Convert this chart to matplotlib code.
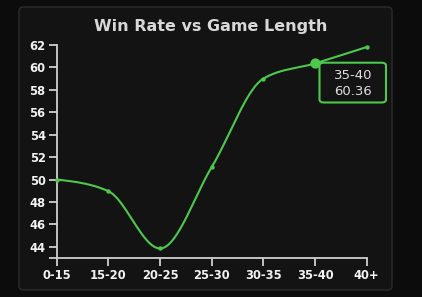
import numpy as np
import matplotlib
matplotlib.use("Agg")
import matplotlib.pyplot as plt
from matplotlib.patches import FancyBboxPatch

categories = ["0-15", "15-20", "20-25", "25-30", "30-35", "35-40", "40+"]
win_rate = [50.0, 48.96, 43.85, 51.11, 59.0, 60.36, 61.82]
y_ticks = [44, 46, 48, 50, 52, 54, 56, 58, 60, 62]
highlight = 5

GREEN = "#4cc94c"
W, H = 422, 297

def monotone_x(x, y, n=40):
    x = np.asarray(x, float); y = np.asarray(y, float)
    h = np.diff(x); s = np.diff(y) / h
    m = np.zeros_like(y)
    for i in range(1, len(y) - 1):
        if s[i-1] * s[i] <= 0:
            m[i] = 0
        else:
            p = (s[i-1] * h[i] + s[i] * h[i-1]) / (h[i-1] + h[i])
            m[i] = (np.sign(s[i-1]) + np.sign(s[i])) * min(abs(s[i-1]), abs(s[i]), 0.5 * abs(p))
    m[0] = (3 * s[0] - m[1]) / 2
    m[-1] = (3 * s[-1] - m[-2]) / 2
    xs, ys = [], []
    for i in range(len(h)):
        t = np.linspace(0, 1, n)
        x0, x1 = x[i], x[i+1]
        y0, y1 = y[i], y[i+1]
        dx = h[i] / 3
        p0 = (x0, y0); p1 = (x0 + dx, y0 + m[i] * dx)
        p2 = (x1 - dx, y1 - m[i+1] * dx); p3 = (x1, y1)
        bx = (1-t)**3*p0[0] + 3*(1-t)**2*t*p1[0] + 3*(1-t)*t**2*p2[0] + t**3*p3[0]
        by = (1-t)**3*p0[1] + 3*(1-t)**2*t*p1[1] + 3*(1-t)*t**2*p2[1] + t**3*p3[1]
        xs.append(bx); ys.append(by)
    return np.concatenate(xs), np.concatenate(ys)

fig = plt.figure(figsize=(W/100, H/100), dpi=100, facecolor="#0c0c0c")

# panel
panel = FancyBboxPatch((19/W, (H-290)/H), (392-19)/W, (290-7)/H,
                       boxstyle="round,pad=0,rounding_size=0.012",
                       transform=fig.transFigure, facecolor="#131313",
                       edgecolor="#2c2c2c", linewidth=1.0, zorder=-5)
fig.patches.append(panel)

fig.text(211/W, 1 - 26/H, "Win Rate vs Game Length", ha="center", va="center",
         fontsize=11.5, fontweight="bold", color="#d8d8d8", family="DejaVu Sans")

ax = fig.add_axes([56.7/W, 39/H, 310/W, 213/H], zorder=2)
ax.set_facecolor("none")
x = np.arange(len(categories))
ax.set_xlim(0, len(categories) - 1)
ax.set_ylim(43, 62)

cx, cy = monotone_x(x, win_rate)
ax.plot(cx, cy, color=GREEN, lw=1.5, clip_on=False, zorder=3)
ax.scatter(x, win_rate, s=10, color=GREEN, zorder=4, clip_on=False, linewidths=0)
ax.scatter([x[highlight]], [win_rate[highlight]], s=55, color=GREEN, zorder=5,
           clip_on=False, linewidths=0)

for sp in ["top", "right"]:
    ax.spines[sp].set_visible(False)
for sp in ["left", "bottom"]:
    ax.spines[sp].set_color("#d0d0d0")
    ax.spines[sp].set_linewidth(1.3)

ax.set_xticks(x)
ax.set_xticklabels(categories)
ax.set_yticks(y_ticks)
ax.set_yticks([43], minor=True)
ax.tick_params(axis="both", which="both", colors="#d0d0d0", length=6, width=1.3,
               labelcolor="#f2f2f2", labelsize=8.3, pad=2)
for lab in ax.get_xticklabels() + ax.get_yticklabels():
    lab.set_fontweight("bold")

# tooltip
tip = FancyBboxPatch((319.5/W, 1 - 102.5/H), (386 - 319.5)/W, (102.5 - 62.7)/H,
                     boxstyle="round,pad=0,rounding_size=0.01",
                     transform=fig.transFigure, facecolor="#141414",
                     edgecolor=GREEN, linewidth=1.5, zorder=10)
fig.patches.append(tip)
fig.text(353/W, 1 - 75/H, categories[highlight], ha="center", va="center",
         fontsize=9.5, color="#dedede", zorder=11)
fig.text(353/W, 1 - 91/H, f"{win_rate[highlight]:.2f}", ha="center", va="center",
         fontsize=9.5, color="#dedede", zorder=11)

fig.savefig("out.png", dpi=100, facecolor=fig.get_facecolor())
